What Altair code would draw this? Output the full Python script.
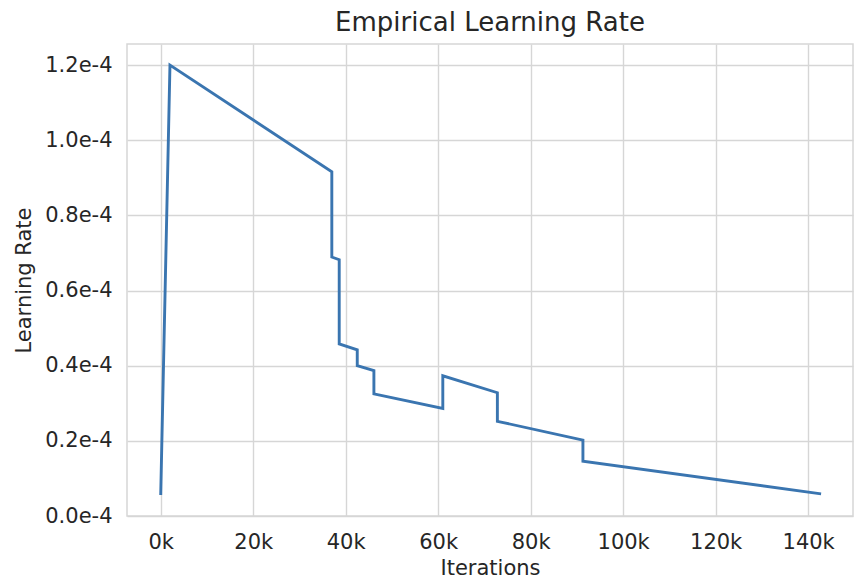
import altair as alt
import pandas as pd

# Data
iterations = [0, 2000, 37000, 37000, 38600, 38600, 42500, 42500, 46100, 46100,
              61000, 61000, 72800, 72800, 91300, 91300, 142800]
learning_rate = [0.056e-4, 1.200e-4, 0.916e-4, 0.689e-4, 0.682e-4, 0.458e-4,
                 0.442e-4, 0.400e-4, 0.387e-4, 0.325e-4, 0.286e-4, 0.373e-4,
                 0.328e-4, 0.252e-4, 0.202e-4, 0.146e-4, 0.059e-4]
x_ticks = [0, 20000, 40000, 60000, 80000, 100000, 120000, 140000]
y_ticks = [0.0, 0.2e-4, 0.4e-4, 0.6e-4, 0.8e-4, 1.0e-4, 1.2e-4]

df = pd.DataFrame({
    "step": list(range(len(iterations))),
    "Iterations": iterations,
    "Learning Rate": learning_rate,
})

FONT = "DejaVu Sans"
TEXT = "#262626"
GRID = "#d6d6d6"

chart = alt.Chart(df).mark_line(color="#3a75b0", strokeWidth=2.9).encode(
    x=alt.X("Iterations:Q",
            scale=alt.Scale(domain=[-7290, 149700], nice=False, zero=False),
            axis=alt.Axis(values=x_ticks, labelExpr="(datum.value/1000) + 'k'",
                          title="Iterations")),
    y=alt.Y("Learning Rate:Q",
            scale=alt.Scale(domain=[0, 1.256e-4], nice=False, zero=False),
            axis=alt.Axis(values=y_ticks,
                          labelExpr="format(datum.value*10000, '.1f') + 'e-4'",
                          title="Learning Rate")),
    order="step:Q",
).properties(
    width=726,
    height=472,
    background="white",
    title=alt.TitleParams("Empirical Learning Rate", font=FONT, fontSize=26,
                          fontWeight="normal", color=TEXT, anchor="middle",
                          offset=8),
    autosize=alt.AutoSizeParams(type="none"),
    padding={"left": 127, "top": 44, "right": 1, "bottom": 66},
).configure_view(
    stroke=GRID, strokeWidth=1.5
).configure_axis(
    labelFont=FONT, labelFontSize=21, labelColor=TEXT,
    titleFont=FONT, titleFontSize=21, titleColor=TEXT, titleFontWeight="normal",
    gridColor=GRID, gridWidth=1.4, domain=False, ticks=False,
    labelPadding=15,
).configure_axisX(
    titlePadding=5,
).configure_axisY(
    titlePadding=10,
)

chart.save("out.html", embed_options={"renderer": "svg", "actions": False})
